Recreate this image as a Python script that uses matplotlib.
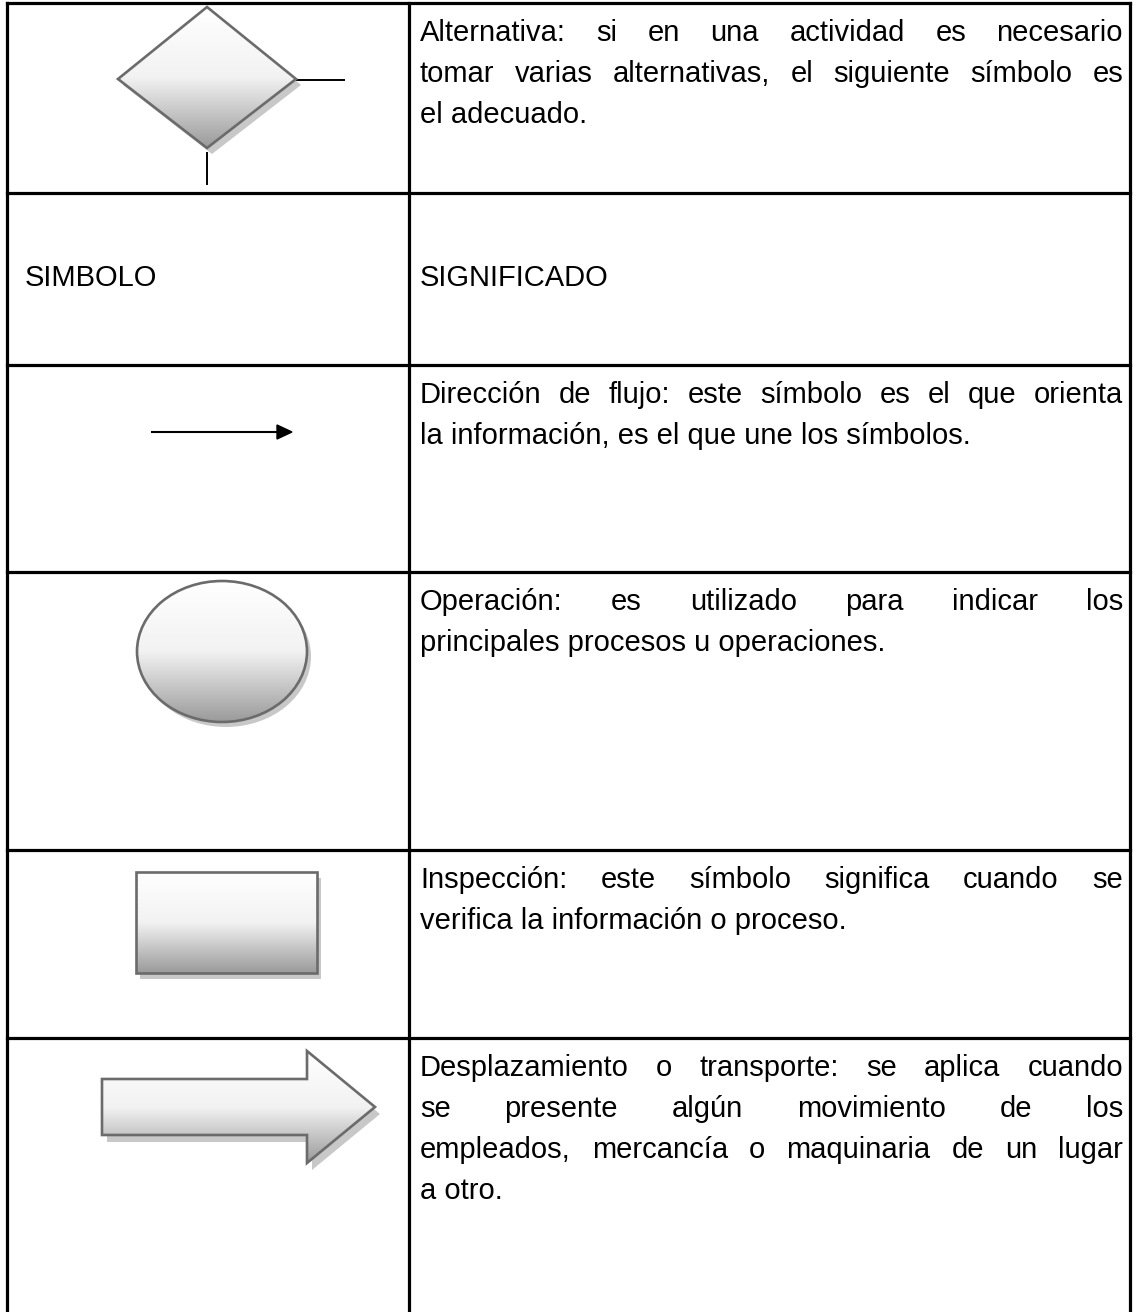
import numpy as np
import matplotlib.pyplot as plt
from matplotlib.patches import Polygon, Ellipse, Rectangle
from matplotlib.colors import LinearSegmentedColormap
from matplotlib.transforms import Affine2D

plt.rcParams['font.family'] = ['Liberation Sans', 'DejaVu Sans']
FS = 21

# Table content
header_symbol = "SIMBOLO"
header_meaning = "SIGNIFICADO"
alt_lines = ["Alternativa: si en una actividad es necesario",
             "tomar varias alternativas, el siguiente símbolo es",
             "el adecuado."]
flow_lines = ["Dirección de flujo: este símbolo es el que orienta",
              "la información, es el que une los símbolos."]
oper_lines = ["Operación: es utilizado para indicar los",
              "principales procesos u operaciones."]
insp_lines = ["Inspección: este símbolo significa cuando se",
              "verifica la información o proceso."]
move_lines = ["Desplazamiento o transporte: se aplica cuando",
              "se presente algún movimiento de los",
              "empleados, mercancía o maquinaria de un lugar",
              "a otro."]

W, H = 1133, 1312
fig = plt.figure(figsize=(W / 100, H / 100), dpi=100)
ax = fig.add_axes([0, 0, 1, 1])
ax.axis('off')
ax.set_xlim(0, W)
ax.set_ylim(H, 0)
renderer = fig.canvas.get_renderer()

LINE_H = 41
x_left, x_mid, x_right = 7, 409, 1130
y_top = 3
row_tops = [y_top, 193, 365, 572, 850, 1038]
text_x0, text_x1 = 420, 1123

# grid lines
tlw = 2.3
for y in row_tops:
    ax.plot([x_left, x_right], [y, y], color='black', lw=tlw, solid_capstyle='projecting')
for x in (x_left, x_mid, x_right):
    ax.plot([x, x], [y_top, H], color='black', lw=tlw, solid_capstyle='projecting')


def word_width(w):
    t = ax.text(0, 0, w, fontsize=FS)
    bb = t.get_window_extent(renderer)
    t.remove()
    return bb.width


def justified(lines, row_top):
    for i, line in enumerate(lines):
        y = row_top + 38 + i * LINE_H
        words = line.split()
        if i == len(lines) - 1 or len(words) == 1:
            ax.text(text_x0, y, line, fontsize=FS, va='baseline')
            continue
        widths = [word_width(w) for w in words]
        gap = (text_x1 - text_x0 - sum(widths)) / (len(words) - 1)
        x = text_x0
        for w, wd in zip(words, widths):
            ax.text(x, y, w, fontsize=FS, va='baseline')
            x += wd + gap


justified(alt_lines, row_tops[0])
ax.text(25, row_tops[1] + 93, header_symbol, fontsize=FS, va='baseline')
ax.text(text_x0, row_tops[1] + 93, header_meaning, fontsize=FS, va='baseline')
justified(flow_lines, row_tops[2])
justified(oper_lines, row_tops[3])
justified(insp_lines, row_tops[4])
justified(move_lines, row_tops[5])

# shaded shapes: drop shadow + vertical grey gradient + dark outline
grey = LinearSegmentedColormap.from_list('g', ['#ffffff', '#f2f2f2', '#9a9a9a'])
edge = '#6b6b6b'


def shaded(make, dx, dy):
    shadow = make()
    shadow.set(facecolor='#c8c8c8', edgecolor='none', zorder=1)
    ax.add_patch(shadow)
    shadow.set_transform(Affine2D().translate(dx, dy) + ax.transData)

    outline = make()
    outline.set(facecolor='none', edgecolor=edge, linewidth=1.9, zorder=3)
    ax.add_patch(outline)

    verts = outline.get_patch_transform().transform(outline.get_path().vertices)
    x0, y0 = verts.min(axis=0)
    x1, y1 = verts.max(axis=0)
    im = ax.imshow(np.linspace(0, 1, 256).reshape(-1, 1), cmap=grey, aspect='auto',
                   extent=(x0, x1, y1, y0), zorder=2, interpolation='bilinear')
    im.set_clip_path(outline)


shaded(lambda: Polygon([[207, 7], [296, 79], [207, 148], [118, 79]], closed=True), 5, 6)
ax.plot([297, 344], [80, 80], color='black', lw=1.4)
ax.plot([207, 207], [153, 184], color='black', lw=1.4)

# flow arrow
ax.plot([152, 279], [432, 432], color='black', lw=1.5)
ax.add_patch(Polygon([[277, 425], [292, 432], [277, 439]], closed=True, color='black'))

shaded(lambda: Ellipse((222, 651.5), 170, 141), 4, 5)
shaded(lambda: Rectangle((136, 872), 181, 101), 4, 6)
shaded(lambda: Polygon([[102, 1079], [307, 1079], [307, 1051], [375, 1107],
                        [307, 1163], [307, 1135], [102, 1135]], closed=True), 5, 7)

ax.set_xlim(0, W)
ax.set_ylim(H, 0)
fig.savefig('out.png', dpi=100, facecolor='white')
